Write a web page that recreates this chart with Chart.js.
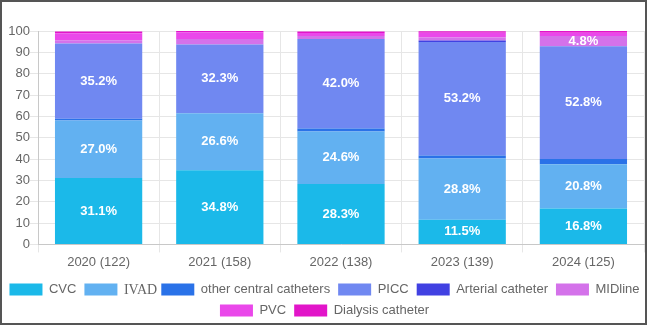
<!DOCTYPE html>
<html>
<head>
<meta charset="utf-8">
<script src="https://cdn.jsdelivr.net/npm/chart.js@4/dist/chart.umd.min.js"></script>
<style>
  html, body { margin: 0; padding: 0; background: #fff; }
  #wrap { position: relative; width: 649px; height: 327px; }
  #frame { position: absolute; left: 0; top: 0; width: 647px; height: 325px; box-sizing: border-box; border: 2px solid #555; pointer-events: none; }
</style>
</head>
<body>
<div id="wrap">
  <canvas id="c" width="649" height="327"></canvas>
  <div id="frame"></div>
</div>
<script>
const categories = ["2020 (122)", "2021 (158)", "2022 (138)", "2023 (139)", "2024 (125)"];
const yTicks = [0, 10, 20, 30, 40, 50, 60, 70, 80, 90, 100];

const cvc            = [31.1, 34.8, 28.3, 11.5, 16.8];
const ivad           = [27.0, 26.6, 24.6, 28.8, 20.8];
const otherCentral   = [0.8, 0.0, 1.4, 1.4, 2.4];
const picc           = [35.2, 32.3, 42.0, 53.2, 52.8];
const arterial       = [0.0, 0.0, 0.0, 0.7, 0.0];
const midline        = [1.6, 2.5, 1.4, 1.4, 4.8];
const pvc            = [3.3, 3.2, 1.4, 2.2, 1.6];
const dialysis       = [0.8, 0.6, 0.7, 0.7, 0.8];

const seriesNames = ["CVC", "IVAD", "other central catheters", "PICC", "Arterial catheter", "MIDline", "PVC", "Dialysis catheter"];
const seriesData = [cvc, ivad, otherCentral, picc, arterial, midline, pvc, dialysis];
const seriesColors = ["#1bb9e9", "#62b1f1", "#2a72e8", "#7088f1", "#4141e2", "#d472ea", "#ea48ea", "#e215c9"];
const serifLabels = ["IVAD"];

const FONT = "'Liberation Sans', Arial, Helvetica, sans-serif";
const SERIF = "'Liberation Serif', 'DejaVu Serif', 'Times New Roman', serif";

const labelPlugin = {
  id: 'segLabels',
  afterDatasetsDraw(chart) {
    const ctx = chart.ctx;
    ctx.save();
    ctx.fillStyle = '#ffffff';
    ctx.font = "bold 13px " + FONT;
    ctx.textAlign = 'center';
    ctx.textBaseline = 'middle';
    chart.data.datasets.forEach((ds, di) => {
      const meta = chart.getDatasetMeta(di);
      meta.data.forEach((bar, i) => {
        const v = ds.data[i];
        if (v >= 4) {
          const p = bar.getProps(['x', 'y', 'base'], true);
          ctx.fillText(v.toFixed(1) + '%', p.x, (p.y + p.base) / 2);
        }
      });
    });
    ctx.restore();
  }
};

const serifLegendPlugin = {
  id: 'serifLegend',
  afterDraw(chart) {
    const lg = chart.legend;
    if (!lg || !lg.legendItems) return;
    const ctx = chart.ctx;
    ctx.save();
    ctx.fillStyle = '#666';
    ctx.font = "14px " + SERIF;
    ctx.textAlign = 'left';
    ctx.textBaseline = 'middle';
    lg.legendItems.forEach((item, i) => {
      if (serifLabels.includes(item.text)) {
        const hb = lg.legendHitBoxes[i];
        ctx.fillText(item.text, hb.left + 33 + 6.5, hb.top + hb.height / 2 + 1);
      }
    });
    ctx.restore();
  }
};

new Chart(document.getElementById('c'), {
  type: 'bar',
  data: {
    labels: categories,
    datasets: seriesNames.map((n, i) => ({
      label: n,
      data: seriesData[i],
      backgroundColor: seriesColors[i],
      borderWidth: 0
    }))
  },
  options: {
    responsive: false,
    animation: false,
    devicePixelRatio: 1,
    layout: { padding: { top: 31, left: 0, right: 0, bottom: 0 } },
    plugins: {
      tooltip: { enabled: false },
      legend: {
        position: 'bottom',
        labels: {
          boxWidth: 33,
          boxHeight: 12,
          padding: 8,
          color: '#666',
          font: { family: FONT, size: 13 },
          generateLabels(chart) {
            const items = Chart.defaults.plugins.legend.labels.generateLabels(chart);
            items.forEach(it => {
              if (serifLabels.includes(it.text)) it.fontColor = 'rgba(0,0,0,0)';
            });
            return items;
          }
        }
      }
    },
    scales: {
      x: {
        stacked: true,
        afterFit(s) { s.height += 3; },
        grid: { color: '#e6e6e6', tickLength: 8 },
        border: { color: '#c8c8c8' },
        ticks: { color: '#666', font: { family: FONT, size: 13 }, padding: 2 }
      },
      y: {
        stacked: true,
        min: 0,
        max: 100,
        afterBuildTicks(s) { s.ticks = yTicks.map(v => ({ value: v })); },
        afterFit(s) { s.width = 38; },
        grid: { color: '#e6e6e6', tickLength: 8 },
        border: { color: '#c8c8c8' },
        ticks: { color: '#666', font: { family: FONT, size: 13 }, padding: 0 }
      },
      yR: {
        position: 'right',
        display: true,
        grid: { display: false },
        border: { display: false },
        ticks: { display: false },
        afterFit(s) { s.width = 5; }
      }
    }
  },
  plugins: [labelPlugin, serifLegendPlugin]
});
</script>
</body>
</html>
